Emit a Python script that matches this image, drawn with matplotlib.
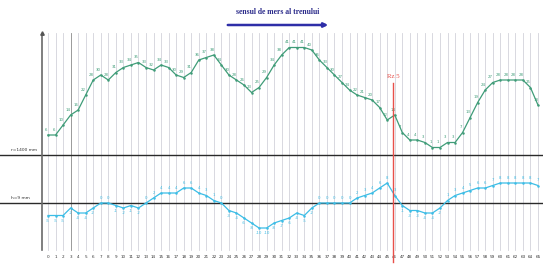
import matplotlib
matplotlib.use("Agg")
import matplotlib.pyplot as plt
import matplotlib.transforms as mtransforms

# ---- data ----
x_idx = list(range(66))
green_vals = [6, 6, 10, 14, 16, 22, 28, 30, 28, 31, 33, 34, 35, 33, 32, 34, 33, 30, 29, 31,
              36, 37, 38, 34, 30, 28, 26, 23, 25, 29, 34, 38, 41, 41, 41, 40, 36, 33, 30, 27,
              24, 22, 21, 20, 17, 12, 14, 7, 4, 4, 3, 1, 1, 3, 3, 7, 13, 19, 24, 27,
              28, 28, 28, 28, 25, 18]
blue_vals = [-5, -5, -5, -2, -4, -4, -2, 0, 0, -1, -2, -1, -2, 0, 2, 4, 4, 4, 6, 6,
             4, 3, 1, 0, -3, -4, -6, -8, -10, -10, -8, -7, -6, -4, -5, -2, 0, 0, 0, 0,
             0, 2, 3, 4, 6, 8, 3, -1, -3, -3, -4, -4, -2, 1, 3, 4, 5, 6, 6, 7,
             8, 8, 8, 8, 8, 7]
tick_labels = [str(i) for i in x_idx]
ref_r_label = "r=1400 mm"
ref_h_label = "h=9 mm"
title_text = "sensul de mers al trenului"
red_label = "Rz 5"
red_x = 45.8

GREEN = "#3f9c78"
BLUE = "#3cbde6"
RED = "#e8504a"
GRID = "#d2d2da"

W, H = 543, 264
fig = plt.figure(figsize=(W / 100, H / 100), dpi=100)
fig.patch.set_facecolor("white")

px0, dpx = 48.0, 7.538
xl = (-px0 / dpx, (W - px0) / dpx)

axg = fig.add_axes([0, 0, 1, 1])
axg.set_xlim(*xl)
axg.set_ylim(-45.6, 60)
axg.axis("off")

axb = fig.add_axes([0, 0, 1, 1])
axb.set_xlim(*xl)
axb.set_ylim(-24.4, 81.2)
axb.axis("off")
axb.patch.set_alpha(0)

def fy(ypx):
    return 1 - ypx / H

# vertical grid lines
for i in x_idx:
    col = "#8a8a8a" if i == 3 else GRID
    axg.axvline(i, ymin=fy(250), ymax=fy(33), color=col, lw=0.6, zorder=1)

# left axis with arrow
fig.add_artist(plt.Line2D([42 / W, 42 / W], [fy(250), fy(34)], transform=fig.transFigure,
                          color="#6a6a6a", lw=1.2))
fig.add_artist(plt.Line2D([42 / W], [fy(33)], transform=fig.transFigure, marker="^",
                          color="#555555", markersize=2.5))

# horizontal reference lines
axb.axhline(0, color="#2a2a2a", lw=1.0, zorder=2)
axb.axhline((203 - 155) / 2.5, color="#2a2a2a", lw=1.0, zorder=2)
fig.text(11 / W, fy(150), ref_r_label, fontsize=3.2, color="#333333", va="center")
fig.text(11 / W, fy(198), ref_h_label, fontsize=3.2, color="#333333", va="center")

# red line
fig.add_artist(plt.Line2D([393 / W, 393 / W], [fy(262), fy(83)], transform=fig.transFigure,
                          color=RED, lw=1.0, zorder=3))
fig.text(393 / W, fy(76), red_label, fontsize=5, color=RED, ha="center", va="center",
         family="Liberation Serif")

# series
axg.plot(x_idx, green_vals, color=GREEN, lw=0.9, marker="o", markersize=0.8, zorder=4)
axb.plot(x_idx, blue_vals, color=BLUE, lw=0.9, marker="o", markersize=0.8, zorder=4)

for i, v in zip(x_idx, green_vals):
    axg.annotate(str(v), (i, v), xytext=(-1.5, 2.5), textcoords="offset points",
                 fontsize=2.8, color=GREEN, ha="center", va="bottom")
for i, v in zip(x_idx, blue_vals):
    axb.annotate(str(v), (i, v), xytext=(0, -2.5 if v < 0 else 2.5), textcoords="offset points",
                 fontsize=2.8, color=BLUE, ha="center", va="top" if v < 0 else "bottom")

# x tick labels
trans = mtransforms.blended_transform_factory(axg.transData, axg.transAxes)
for i, t in zip(x_idx, tick_labels):
    axg.text(i, fy(257), t, transform=trans, fontsize=3.0, color="#333333",
             ha="center", va="center")

# direction arrow + text
fig.text(278 / W, fy(12), title_text, fontsize=5.5, color="#2a2a8a", ha="center",
         va="center", family="Liberation Serif", fontweight="bold")
axg.annotate("", xy=(331 / W, fy(25)), xytext=(225 / W, fy(25)),
             xycoords="figure fraction", textcoords="figure fraction",
             arrowprops=dict(arrowstyle="-|>", color="#2e2ea8", lw=1.8, mutation_scale=6))

fig.savefig("out.png", dpi=100, facecolor="white")
